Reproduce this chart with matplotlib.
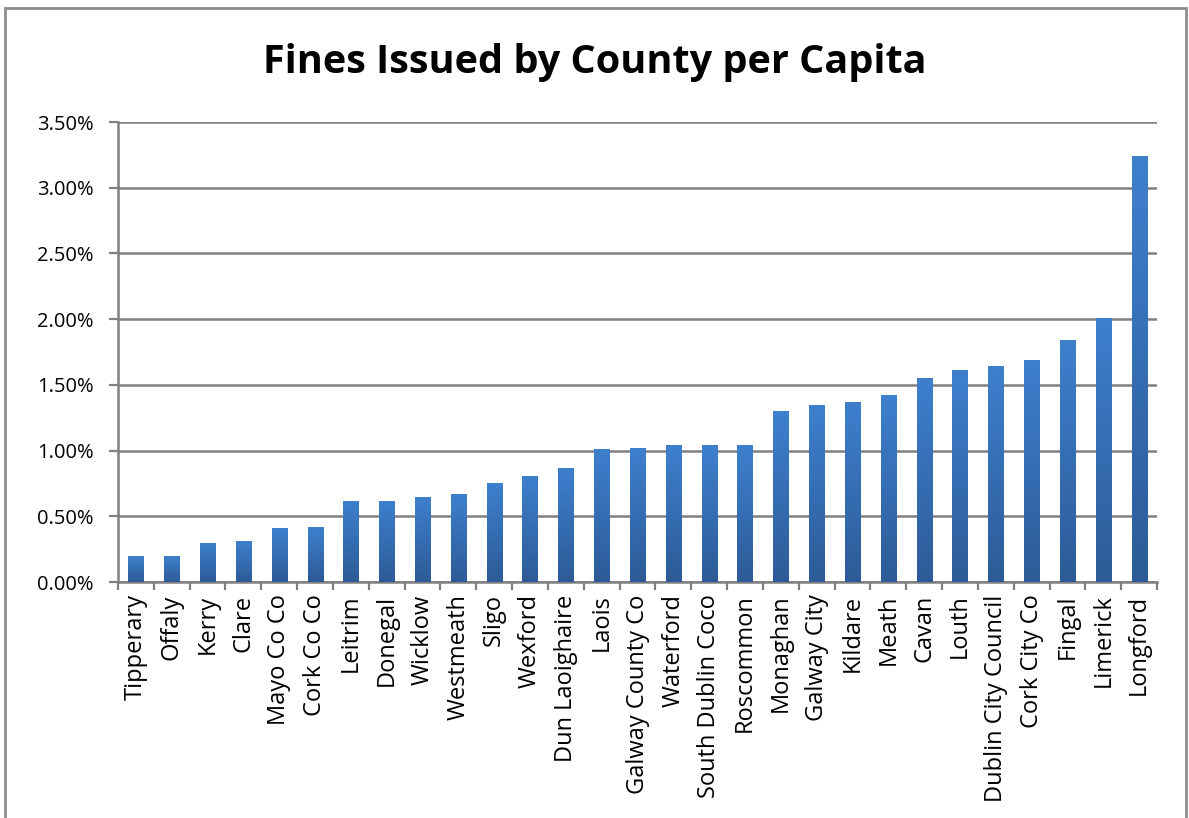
import numpy as np
import matplotlib.pyplot as plt
from matplotlib.patches import Rectangle
from matplotlib.colors import LinearSegmentedColormap
from matplotlib.ticker import FuncFormatter, FixedLocator

# datos (porcentaje de multas por habitante)
condados = ['Tipperary', 'Offaly', 'Kerry', 'Clare', 'Mayo Co Co', 'Cork Co Co',
            'Leitrim', 'Donegal', 'Wicklow', 'Westmeath', 'Sligo', 'Wexford',
            'Dun Laoighaire', 'Laois', 'Galway County Co', 'Waterford',
            'South Dublin Coco', 'Roscommon', 'Monaghan', 'Galway City', 'Kildare',
            'Meath', 'Cavan', 'Louth', 'Dublin City Council', 'Cork City Co',
            'Fingal', 'Limerick', 'Longford']
valores = [0.20, 0.20, 0.30, 0.31, 0.41, 0.42,
           0.62, 0.62, 0.65, 0.67, 0.75, 0.81,
           0.87, 1.01, 1.02, 1.04,
           1.04, 1.04, 1.30, 1.35, 1.37,
           1.42, 1.55, 1.61, 1.64, 1.69,
           1.84, 2.01, 3.24]

plt.rcParams['font.family'] = ['Open Sans', 'DejaVu Sans']

fig = plt.figure(figsize=(11.89, 8.18), dpi=100)
ax = fig.add_axes([118/1189, 1 - 582/818, (1157-118)/1189, (582-122)/818])

# borde gris del area del grafico
fig.patches.append(Rectangle((5/1189, -0.1), (1186-5)/1189, 1.1 - 8/818,
                             transform=fig.transFigure, fill=False,
                             edgecolor='#8c8c8c', linewidth=2))

x = np.arange(len(condados))
ancho = 0.42
degradado = LinearSegmentedColormap.from_list('azul', ['#2d5b97', '#3e80ce'])
grad = np.linspace(0, 1, 256).reshape(-1, 1)
barras = ax.bar(x, valores, width=ancho, color='none', edgecolor='none', zorder=3)
for b in barras:
    x0, y0 = b.get_x(), b.get_y()
    w, h = b.get_width(), b.get_height()
    im = ax.imshow(grad, cmap=degradado, aspect='auto', origin='lower',
                   extent=[x0, x0 + w, y0, y0 + h], zorder=3)
    im.set_clip_path(b)

ax.set_xlim(-0.5, len(condados) - 0.5)
ax.set_ylim(0, 3.5)
ax.set_yticks(np.arange(0, 3.51, 0.5))
ax.yaxis.set_major_formatter(FuncFormatter(lambda v, p: f'{v:.2f}%'))
ax.grid(axis='y', color='#808080', linewidth=1.8, zorder=0)

# marcas del eje x entre categorias, etiquetas en el centro
ax.xaxis.set_major_locator(FixedLocator(np.arange(-0.5, len(condados), 1.0)))
ax.xaxis.set_major_formatter(FuncFormatter(lambda v, p: ''))
ax.set_xticks(x, minor=True)
ax.set_xticklabels(condados, minor=True, rotation=90, fontsize=17)
ax.tick_params(axis='x', which='minor', length=0, pad=9)
ax.tick_params(axis='x', which='major', length=6, width=1.6, color='#808080', direction='out')
ax.tick_params(axis='y', length=6.5, width=1.6, color='#808080', labelsize=14.5, pad=11)

for lado in ['top', 'right']:
    ax.spines[lado].set_visible(False)
for lado in ['left', 'bottom']:
    ax.spines[lado].set_color('#808080')
    ax.spines[lado].set_linewidth(1.8)

fig.text(595/1189, 1 - 62/818, 'Fines Issued by County per Capita', ha='center', va='center',
         fontsize=28.5, fontweight='bold')

plt.savefig('out.png', dpi=100)
